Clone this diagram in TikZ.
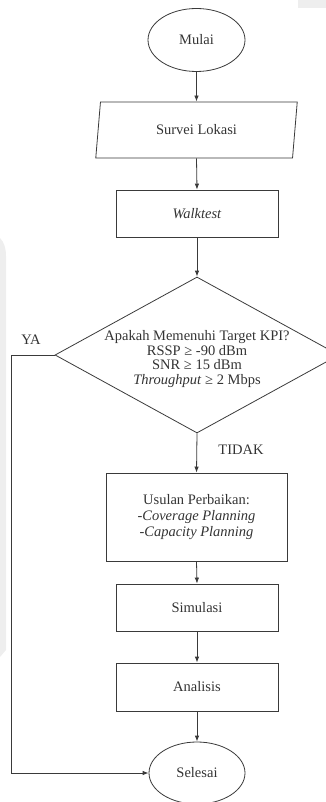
\documentclass[tikz,border=0pt]{standalone}
\usepackage{fontspec}
\setmainfont{Liberation Serif}
\usetikzlibrary{shapes.geometric,arrows.meta}
\definecolor{ln}{HTML}{3A3A3A}
\definecolor{tx}{HTML}{333333}
\definecolor{wm}{HTML}{EEEEEE}
\tikzset{
  base/.style={draw=ln, line width=0.8pt, text=tx, font=\fontsize{14.5}{15}\selectfont, align=center, inner sep=0pt},
  term/.style={base, ellipse, minimum width=97pt, minimum height=63pt},
  io/.style={base, trapezium, trapezium left angle=79, trapezium right angle=101, trapezium stretches=true, minimum width=203pt, minimum height=56pt},
  proc/.style={base, rectangle, minimum width=162pt, minimum height=47pt},
  decis/.style={base, diamond, minimum width=284pt, minimum height=156pt},
  lbl/.style={text=tx, font=\fontsize{14.5}{14.5}\selectfont, inner sep=0pt},
  conn/.style={draw=ln, line width=0.8pt, -{Latex[length=6pt,width=4.5pt]}},
}
\begin{document}
\begin{tikzpicture}[x=1pt,y=1pt]
\useasboundingbox (0,0) rectangle (326,-802);
\clip (0,0) rectangle (326,-802);
% faint background marks
\fill[wm] (298,0) rectangle (326,-8);
\fill[wm] (0,-238) .. controls (4,-242) and (6,-248) .. (6,-256) -- (6,-650) -- (0,-657) -- cycle;

\node[term] (mulai) at (196.5,-40) {Mulai};
\node[io] (survei) at (196.5,-130) {Survei Lokasi};
\node[proc] (walk) at (197,-213.5) {\textit{Walktest}};
\node[decis] (dec) at (197,-355) {};
\node[lbl, align=center] (dectext) at (197,-359) {Apakah Memenuhi Target KPI?\\RSSP ≥ -90 dBm\\SNR ≥ 15 dBm\\\textit{Throughput} ≥ 2 Mbps};
\node[base, rectangle, minimum width=181pt, minimum height=88pt, font=\fontsize{14.5}{16}\selectfont] (usul) at (196.5,-517) {Usulan Perbaikan:\\-\textit{Coverage Planning}\\-\textit{Capacity Planning}};
\node[proc] (sim) at (197,-607.5) {Simulasi};
\node[proc, minimum height=48pt] (anal) at (197,-687) {Analisis};
\node[term, minimum width=96pt, minimum height=62pt] (sel) at (197,-773) {Selesai};

\node[lbl] (ya) at (31,-340) {YA};
\node[lbl] (tidak) at (241,-450) {TIDAK};

\draw[conn] (mulai.south) -- (mulai.south |- survei.north);
\draw[conn] (mulai.south |- survei.south) -- (walk.north);
\draw[conn] (walk.south) -- (dec.north);
\draw[conn] (dec.south) -- (usul.north);
\draw[conn] (usul.south) -- (sim.north);
\draw[conn] (sim.south) -- (anal.north);
\draw[conn] (anal.south) -- (sel.north);
\draw[conn] (dec.west) -- ++(-43,0) |- (sel.west);
\end{tikzpicture}
\end{document}
